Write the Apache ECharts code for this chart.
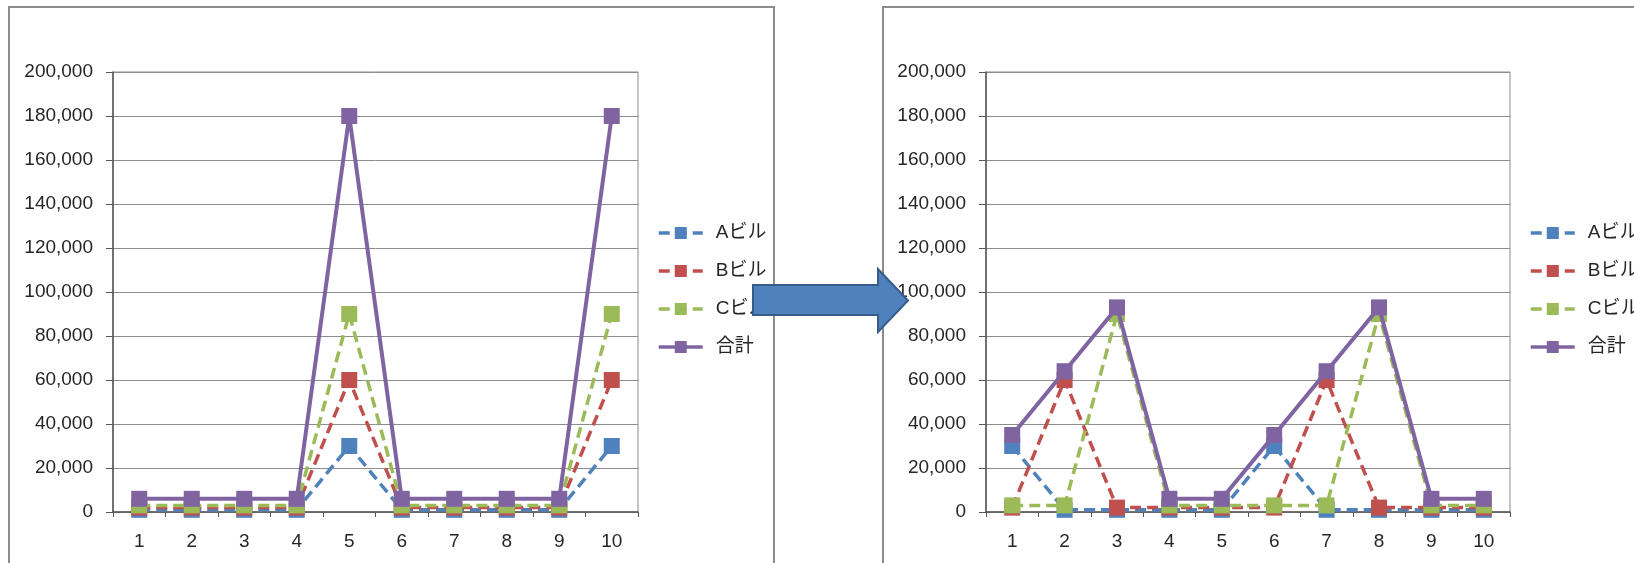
<!DOCTYPE html>
<html>
<head>
<meta charset="utf-8">
<script src="https://cdn.jsdelivr.net/npm/echarts@6/dist/echarts.min.js"></script>
<style>
html,body{margin:0;padding:0;background:#fff;}
#c{width:1634px;height:563px;}
</style>
</head>
<body>
<div id="c"></div>
<script>
const categories = ['1','2','3','4','5','6','7','8','9','10'];
const seriesNames = ['Aビル','Bビル','Cビル','合計'];
const yTicks = [0,20000,40000,60000,80000,100000,120000,140000,160000,180000,200000];

// left chart (before)
const leftA = [1000,1000,1000,1000,30000,1000,1000,1000,1000,30000];
const leftB = [2000,2000,2000,2000,60000,2000,2000,2000,2000,60000];
const leftC = [3000,3000,3000,3000,90000,3000,3000,3000,3000,90000];
const leftTotal = [6000,6000,6000,6000,180000,6000,6000,6000,6000,180000];

// right chart (after)
const rightA = [30000,1000,1000,1000,1000,30000,1000,1000,1000,1000];
const rightB = [2000,60000,2000,2000,2000,2000,60000,2000,2000,2000];
const rightC = [3000,3000,90000,3000,3000,3000,3000,90000,3000,3000];
const rightTotal = [35000,64000,93000,6000,6000,35000,64000,93000,6000,6000];

const colors = ['#4F81BD','#C0504D','#9BBB59','#8064A2'];
const font = '"Liberation Sans", "Noto Sans CJK JP", sans-serif';
const textColor = '#262626';

function xAxis(gi){
  return {
    type:'category', gridIndex:gi, data:categories, boundaryGap:true,
    axisLine:{show:true, lineStyle:{color:'#555', width:1.5}},
    axisTick:{show:true, interval:0, length:5, lineStyle:{color:'#555'}},
    axisLabel:{interval:0, margin:20, color:textColor, fontSize:19, fontFamily:font},
    splitLine:{show:false}
  };
}
function yAxis(gi){
  return {
    type:'value', gridIndex:gi, min:yTicks[0], max:yTicks[yTicks.length-1], interval:yTicks[1]-yTicks[0],
    axisLine:{show:true, lineStyle:{color:'#555', width:1.5}},
    axisTick:{show:true, length:7, lineStyle:{color:'#555'}},
    axisLabel:{margin:20, color:textColor, fontSize:19, fontFamily:font,
      formatter:v=>v.toLocaleString('en-US')},
    splitLine:{show:true, lineStyle:{color:'#8c8c8c', width:1}}
  };
}
function mkSeries(gi, arrs){
  return arrs.map((d,i)=>({
    name:seriesNames[i], type:'line', xAxisIndex:gi, yAxisIndex:gi, data:d,
    symbol:'rect', symbolSize:16, showSymbol:true,
    lineStyle:{color:colors[i], width: i===3?4:3.5, type: i===3?'solid':[11,6]},
    itemStyle:{color:colors[i]},
    emphasis:{disabled:true}, animation:false, z:2+i
  }));
}
function legend(left){
  return {
    orient:'vertical', left:left, top:218, itemGap:18, itemWidth:44, itemHeight:15,
    data:seriesNames,
    textStyle:{fontSize:19, lineHeight:20, color:textColor, fontFamily:font, padding:[0,0,0,8]},
    lineStyle:{width:3.5},
    selectedMode:false
  };
}

const chart = echarts.init(document.getElementById('c'), null, {renderer:'canvas'});
chart.setOption({
  animation:false,
  backgroundColor:'#fff',
  color:colors,
  grid:[
    {left:113, top:72, width:525, height:440, show:true, borderColor:'#8c8c8c', borderWidth:1, backgroundColor:'#fff'},
    {left:986, top:72, width:524, height:440, show:true, borderColor:'#8c8c8c', borderWidth:1, backgroundColor:'#fff'}
  ],
  xAxis:[xAxis(0), xAxis(1)],
  yAxis:[yAxis(0), yAxis(1)],
  legend:[legend(652), legend(1524)],
  series:[
    ...mkSeries(0,[leftA,leftB,leftC,leftTotal]),
    ...mkSeries(1,[rightA,rightB,rightC,rightTotal])
  ],
  graphic:[
    {type:'rect', z:-10, shape:{x:9, y:7, width:765, height:620}, style:{fill:'#fff', stroke:'#8c8c8c', lineWidth:2}},
    {type:'rect', z:-10, shape:{x:883, y:7, width:800, height:620}, style:{fill:'#fff', stroke:'#8c8c8c', lineWidth:2}},
    {type:'polygon', z:100, shape:{points:[[753,285],[878,285],[878,269],[908,300.5],[878,332],[878,315],[753,315]]},
      style:{fill:'#4F81BD', stroke:'#385D8A', lineWidth:2}}
  ]
});
</script>
</body>
</html>
